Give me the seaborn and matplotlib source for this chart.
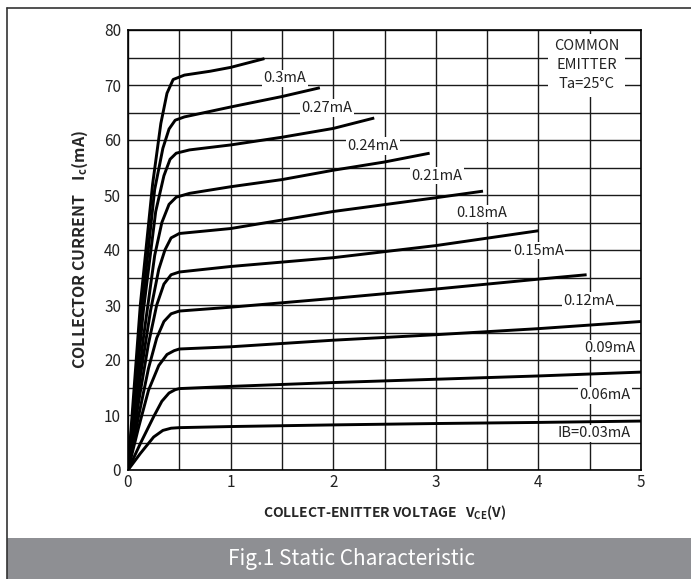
import matplotlib
matplotlib.use("Agg")
import matplotlib.pyplot as plt
from matplotlib.patches import Rectangle
from matplotlib.lines import Line2D
import seaborn as sns
import pandas as pd

# base currents and the curves
ib_labels = ["IB=0.03mA", "0.06mA", "0.09mA", "0.12mA", "0.15mA",
             "0.18mA", "0.21mA", "0.24mA", "0.27mA", "0.3mA"]

vce_003 = [0, 0.12, 0.25, 0.34, 0.42, 0.5, 1.0, 2.0, 3.0, 4.0, 5.0]
ic_003 = [0, 3.0, 6.0, 7.2, 7.6, 7.7, 7.9, 8.2, 8.45, 8.65, 8.9]

vce_006 = [0, 0.12, 0.25, 0.33, 0.40, 0.46, 0.5, 1.0, 2.0, 3.0, 4.0, 5.0]
ic_006 = [0, 4.8, 9.7, 12.5, 14.0, 14.6, 14.8, 15.2, 15.9, 16.5, 17.1, 17.8]

vce_009 = [0, 0.10, 0.20, 0.30, 0.38, 0.45, 0.5, 1.0, 2.0, 3.0, 4.0, 5.0]
ic_009 = [0, 7.5, 14.5, 19.0, 21.0, 21.7, 22.0, 22.4, 23.6, 24.6, 25.7, 27.0]

vce_012 = [0, 0.10, 0.20, 0.28, 0.35, 0.42, 0.5, 1.0, 2.0, 3.0, 4.0, 4.47]
ic_012 = [0, 9.5, 18.5, 24.0, 27.0, 28.4, 28.9, 29.6, 31.2, 32.9, 34.7, 35.5]

vce_015 = [0, 0.10, 0.20, 0.28, 0.35, 0.42, 0.5, 1.0, 2.0, 3.0, 4.0]
ic_015 = [0, 12.0, 23.0, 30.0, 33.8, 35.5, 36.0, 37.0, 38.6, 40.8, 43.5]

vce_018 = [0, 0.12, 0.22, 0.30, 0.36, 0.42, 0.5, 1.0, 2.0, 3.0, 3.46]
ic_018 = [0, 17.0, 29.0, 36.5, 40.0, 42.2, 43.0, 43.9, 47.0, 49.5, 50.7]

vce_021 = [0, 0.15, 0.26, 0.33, 0.40, 0.47, 0.6, 1.0, 1.5, 2.0, 2.5, 2.94]
ic_021 = [0, 24.0, 39.0, 45.0, 48.3, 49.6, 50.3, 51.5, 52.8, 54.5, 56.0, 57.6]

vce_024 = [0, 0.15, 0.27, 0.35, 0.41, 0.47, 0.6, 1.0, 1.5, 2.0, 2.4]
ic_024 = [0, 29.0, 47.0, 53.5, 56.5, 57.6, 58.2, 59.1, 60.5, 62.1, 64.0]

vce_027 = [0, 0.14, 0.26, 0.34, 0.40, 0.46, 0.55, 1.0, 1.5, 1.87]
ic_027 = [0, 30.0, 51.0, 58.5, 62.0, 63.6, 64.2, 66.0, 67.9, 69.5]

vce_030 = [0, 0.12, 0.24, 0.32, 0.38, 0.44, 0.55, 0.8, 1.0, 1.33]
ic_030 = [0, 30.0, 52.0, 63.0, 68.5, 71.0, 71.8, 72.5, 73.2, 74.8]

curves = [(vce_003, ic_003), (vce_006, ic_006), (vce_009, ic_009),
          (vce_012, ic_012), (vce_015, ic_015), (vce_018, ic_018),
          (vce_021, ic_021), (vce_024, ic_024), (vce_027, ic_027),
          (vce_030, ic_030)]

# where each curve name sits (data coords)
label_x = [4.54, 4.65, 4.70, 4.49, 4.00, 3.45, 3.01, 2.39, 1.94, 1.53]
label_y = [6.7, 13.6, 22.1, 30.8, 39.9, 46.7, 53.5, 58.9, 65.8, 71.2]

frames = []
for name, (v, i) in zip(ib_labels, curves):
    frames.append(pd.DataFrame({"vce": v, "ic": i, "ib": name}))
df = pd.concat(frames, ignore_index=True)

sns.set_style("white")
plt.rcParams["font.family"] = ["Noto Sans CJK SC", "DejaVu Sans"]
plt.rcParams["mathtext.fontset"] = "custom"
plt.rcParams["mathtext.rm"] = "Noto Sans CJK SC"
plt.rcParams["mathtext.bf"] = "Noto Sans CJK SC:bold"

fig = plt.figure(figsize=(6.91, 5.79), dpi=100)
ax = fig.add_axes([128 / 691, 1 - 470 / 579, 513 / 691, 440 / 579])

sns.lineplot(data=df, x="vce", y="ic", hue="ib", units="ib", estimator=None,
             sort=False, palette=["black"] * len(ib_labels), legend=False,
             linewidth=2.1, ax=ax, zorder=4)
for ln in ax.get_lines():
    ln.set_solid_capstyle("butt")
    ln.set_solid_joinstyle("round")

ax.set_xlim(0, 5)
ax.set_ylim(0, 80)
ax.set_xticks([0, 1, 2, 3, 4, 5])
ax.set_yticks(range(0, 81, 10))
ax.set_xticks([0.5, 1.5, 2.5, 3.5, 4.5], minor=True)
ax.set_yticks(range(5, 80, 10), minor=True)
ax.grid(True, which="both", color="#1a1a1a", linewidth=1.0, zorder=1)
ax.set_axisbelow(True)
ax.tick_params(axis="both", which="both", length=0, labelsize=11,
               colors="#222222", pad=5)
ax.tick_params(axis="x", pad=3)
for sp in ax.spines.values():
    sp.set_color("black")
    sp.set_linewidth(1.2)

for name, lx, ly in zip(ib_labels, label_x, label_y):
    ax.text(lx, ly, name, ha="center", va="center", fontsize=10.5,
            color="#222222", zorder=3,
            bbox=dict(facecolor="white", edgecolor="none", pad=1.2))

ax.text(4.47, 73.6, "COMMON\nEMITTER\nTa=25°C", ha="center", va="center",
        fontsize=10.5, color="#222222", linespacing=1.45, zorder=3,
        bbox=dict(facecolor="white", edgecolor="none", pad=4.0))

ax.set_xlabel(r"COLLECT-ENITTER VOLTAGE   $\mathbf{V_{CE}}$(V)",
              fontsize=10, fontweight="bold", labelpad=9)
ax.set_ylabel(r"COLLECTOR CURRENT    $\mathbf{I_{c}}$(mA)",
              fontsize=11.5, fontweight="bold", labelpad=10)

# outer frame (top and left) and caption band
fig.add_artist(Line2D([7 / 691, 1], [1 - 8 / 579, 1 - 8 / 579],
                      transform=fig.transFigure, color="#333333", lw=1.2))
fig.add_artist(Line2D([7 / 691, 7 / 691], [0, 1 - 8 / 579],
                      transform=fig.transFigure, color="#333333", lw=1.2))
fig.add_artist(Rectangle((7 / 691, 0), 1, 41 / 579, transform=fig.transFigure,
                         facecolor="#8e8f93", edgecolor="none"))
fig.text(352 / 691, 20 / 579, "Fig.1 Static Characteristic", ha="center",
         va="center", fontsize=15, color="white")

fig.savefig("out.png", dpi=100)
